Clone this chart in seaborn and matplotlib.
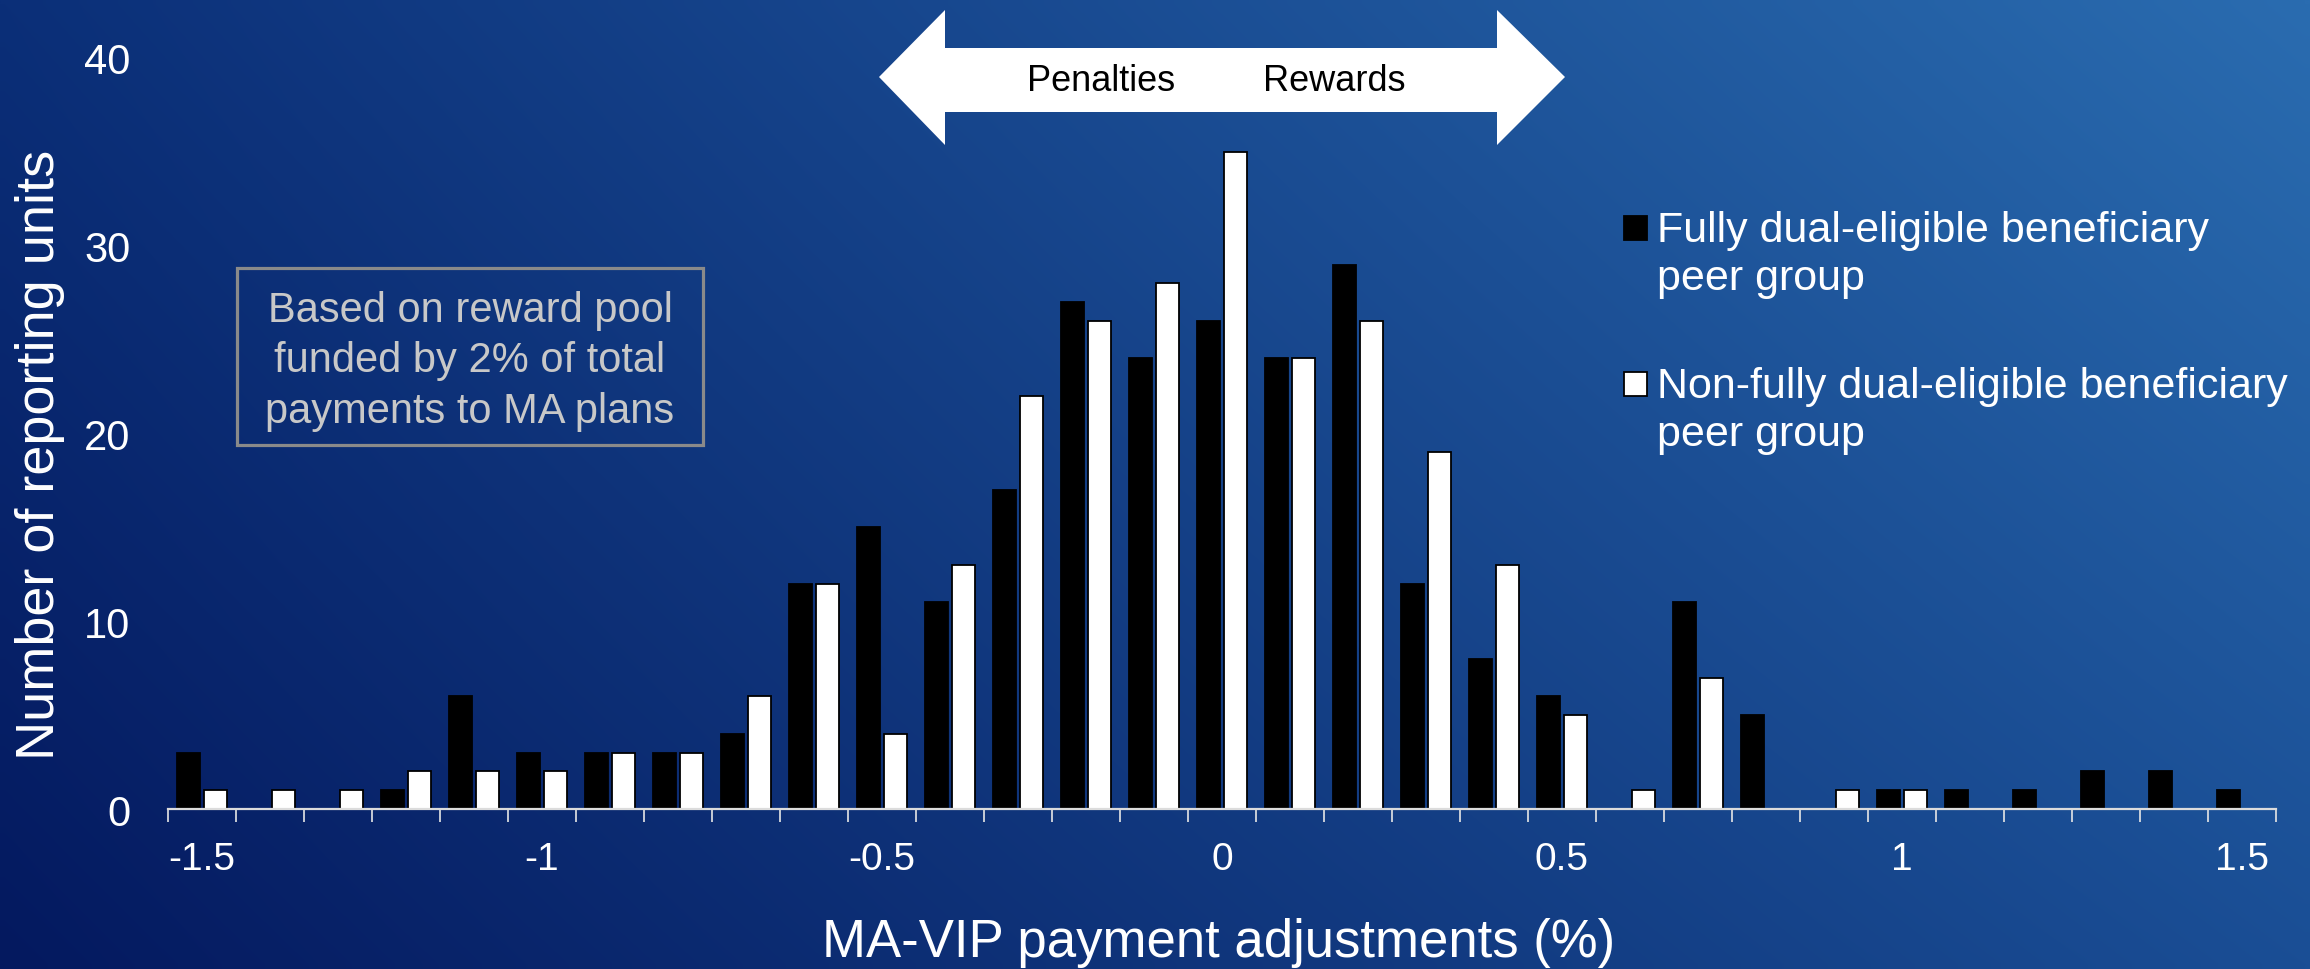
import numpy as np
import pandas as pd
import matplotlib
matplotlib.use("Agg")
import matplotlib.pyplot as plt
from matplotlib.patches import Polygon, Rectangle
import seaborn as sns

# ---- data ----
adjustments = ["-1.5", "-1.4", "-1.3", "-1.2", "-1.1", "-1", "-0.9", "-0.8", "-0.7", "-0.6",
               "-0.5", "-0.4", "-0.3", "-0.2", "-0.1", "0", "0.1", "0.2", "0.3", "0.4",
               "0.5", "0.6", "0.7", "0.8", "0.9", "1", "1.1", "1.2", "1.3", "1.4", "1.5"]
fully_dual = [3, 0, 0, 1, 6, 3, 3, 3, 4, 12,
              15, 11, 17, 27, 24, 26, 24, 29, 12, 8,
              6, 0, 11, 5, 0, 1, 1, 1, 2, 2, 1]
non_fully_dual = [1, 1, 1, 2, 2, 2, 3, 3, 6, 12,
                  4, 13, 22, 26, 28, 35, 24, 26, 19, 13,
                  5, 1, 7, 0, 1, 1, 0, 0, 0, 0, 0]
series_names = ["Fully dual-eligible beneficiary peer group",
                "Non-fully dual-eligible beneficiary peer group"]
xtick_labels = ["-1.5", "-1", "-0.5", "0", "0.5", "1", "1.5"]
ytick_values = [0, 10, 20, 30, 40]

df = pd.DataFrame({
    "adj": adjustments * 2,
    "count": fully_dual + non_fully_dual,
    "group": [series_names[0]] * len(adjustments) + [series_names[1]] * len(adjustments),
})

sns.set_style("white")
plt.rcParams["font.family"] = ["Liberation Sans", "DejaVu Sans"]

W, H = 2310, 970
fig = plt.figure(figsize=(W / 100, H / 100), dpi=100)

def fx(px):
    return px / W

def fy(py):
    return 1 - py / H

# ---- gradient background ----
bg = fig.add_axes([0, 0, 1, 1], zorder=-10)
tl = np.array([0x0b, 0x2f, 0x78]) / 255
tr = np.array([0x2a, 0x6c, 0xb0]) / 255
bl = np.array([0x04, 0x19, 0x5f]) / 255
br = np.array([0x1a, 0x4e, 0x95]) / 255
u = np.linspace(0, 1, 240)[None, :, None]
v = np.linspace(0, 1, 100)[:, None, None]
img = (1 - v) * ((1 - u) * tl + u * tr) + v * ((1 - u) * bl + u * br)
bg.imshow(img, aspect="auto", extent=[0, 1, 0, 1], interpolation="bilinear")
bg.axis("off")

# ---- main axes ----
ax_left, ax_right = 168, 2276
ax_bottom, ax_top = 810, 59
ax = fig.add_axes([fx(ax_left), fy(ax_bottom), fx(ax_right - ax_left), (ax_bottom - ax_top) / H])
ax.set_zorder(1)
ax.patch.set_alpha(0)

sns.barplot(data=df, x="adj", y="count", hue="group", order=adjustments,
            hue_order=series_names, palette=["black", "white"], saturation=1,
            edgecolor="black", linewidth=1.3, width=0.8, gap=0.17,
            legend=False, ax=ax)

ax.set_xlim(-0.5, len(adjustments) - 0.5)
ax.set_ylim(0, 40)
for s in ["top", "right", "left"]:
    ax.spines[s].set_visible(False)
ax.spines["bottom"].set_color("#dcdcdc")
ax.spines["bottom"].set_linewidth(1.6)

pos = [adjustments.index(l) for l in xtick_labels]
ax.set_xticks(pos)
ax.set_xticklabels(xtick_labels, fontsize=28, color="white")
ax.set_xticks(np.arange(-0.5, len(adjustments), 1.0), minor=True)
ax.tick_params(axis="x", which="major", length=0, pad=23)
ax.tick_params(axis="x", which="minor", length=9.4, width=1.2, color="#e6e6e6", direction="out", bottom=True)
ax.set_yticks(ytick_values)
ax.set_yticklabels([str(v) for v in ytick_values], fontsize=30, color="white")
ax.tick_params(axis="y", length=0, pad=27)
ax.grid(False)

ax.set_xlabel("MA-VIP payment adjustments (%)", fontsize=38, color="white")
ax.xaxis.label.set_va("baseline")
ax.xaxis.set_label_coords((1219 - ax_left) / (ax_right - ax_left), (ax_bottom - 957) / (ax_bottom - ax_top))
ax.set_ylabel("Number of reporting units", fontsize=39, color="white")
ax.yaxis.label.set_va("center")
ax.yaxis.set_label_coords((40 - ax_left) / (ax_right - ax_left), (ax_bottom - 455) / (ax_bottom - ax_top))

# ---- double arrow: Penalties / Rewards ----
pts = [(879, 78), (945, 11), (945, 49), (1497, 49), (1497, 11), (1565, 78),
       (1497, 146), (1497, 113), (945, 113), (945, 146)]
fig.patches.append(Polygon([(fx(x), fy(y)) for x, y in pts], closed=True,
                           facecolor="white", edgecolor="none",
                           transform=fig.transFigure, zorder=5))
fig.text(fx(1101), fy(91), "Penalties", fontsize=26, color="black", ha="center", va="baseline", zorder=6)
fig.text(fx(1334), fy(91), "Rewards", fontsize=26, color="black", ha="center", va="baseline", zorder=6)

# ---- note box ----
fig.patches.append(Rectangle((fx(237), fy(446)), fx(703 - 237), (446 - 269) / H,
                             facecolor="none", edgecolor="#8a8a8a", linewidth=2.3,
                             transform=fig.transFigure, zorder=5))
for line, base in zip(["Based on reward pool", "funded by 2% of total", "payments to MA plans"],
                      [322, 372, 423]):
    fig.text(fx(470), fy(base), line, fontsize=30, color="#c8c8c8", ha="center", va="baseline", zorder=6)

# ---- legend (manual) ----
legend_items = [
    ("black", ["Fully dual-eligible beneficiary", "peer group"], 217, 242),
    ("white", ["Non-fully dual-eligible beneficiary", "peer group"], 373, 398),
]
for color, lines, box_top, base in legend_items:
    fig.patches.append(Rectangle((fx(1624), fy(box_top + 24)), fx(23), 24 / H,
                                 facecolor=color, edgecolor="black", linewidth=1.3,
                                 transform=fig.transFigure, zorder=5))
    for i, line in enumerate(lines):
        fig.text(fx(1657), fy(base + 48 * i), line, fontsize=31, color="white",
                 ha="left", va="baseline", zorder=6)

fig.savefig("out.png", dpi=100)
